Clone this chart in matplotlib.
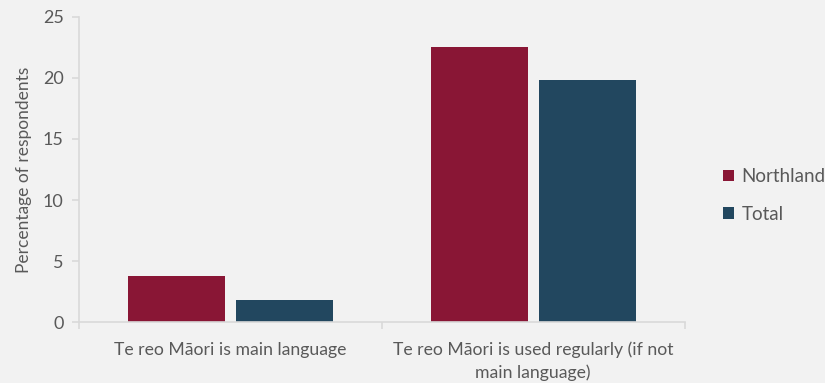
import matplotlib.pyplot as plt
import numpy as np

plt.rcParams['font.family'] = ['Lato', 'DejaVu Sans']

categories = ['Te reo Māori is main language',
              'Te reo Māori is used regularly (if not\nmain language)']
northland = [3.8, 22.5]
total = [1.8, 19.8]

bg = '#f2f2f2'
grey = '#d9d9d9'
txt = '#595959'

fig = plt.figure(figsize=(8.25, 3.83), dpi=100, facecolor=bg)
ax = fig.add_axes([0.0958, 0.159, 0.734, 0.797], facecolor=bg)

x = np.arange(len(categories))
w = 0.32
off = 0.178
ax.bar(x - off, northland, w, color='#891635', label='Northland')
ax.bar(x + off, total, w, color='#22475f', label='Total')

ax.set_xlim(-0.5, 1.5)
ax.set_ylim(0, 25)
ax.set_yticks(range(0, 26, 5))
ax.set_xticks([-0.5, 0.5, 1.5])
ax.set_xticklabels([])
ax.set_xticks(x, minor=True)
ax.set_xticklabels(categories, minor=True, linespacing=1.45)
ax.tick_params(axis='x', which='minor', length=0, pad=14, labelsize=12.7, labelcolor=txt)
ax.tick_params(axis='x', which='major', length=5, color=grey, width=1.2)
ax.tick_params(axis='y', length=5, color=grey, width=1.2, labelsize=13, labelcolor=txt, pad=6)

for s in ['top', 'right']:
    ax.spines[s].set_visible(False)
for s in ['left', 'bottom']:
    ax.spines[s].set_color(grey)
    ax.spines[s].set_linewidth(1.2)

ax.set_ylabel('Percentage of respondents', fontsize=12.5, color=txt, labelpad=8)

leg = ax.legend(loc='center left', bbox_to_anchor=(1.035, 0.415), frameon=False,
                fontsize=13.5, handlelength=0.6, handleheight=0.6, handletextpad=0.4,
                labelspacing=1.1, labelcolor=txt)

fig.savefig('out.png', dpi=100, facecolor=bg)
